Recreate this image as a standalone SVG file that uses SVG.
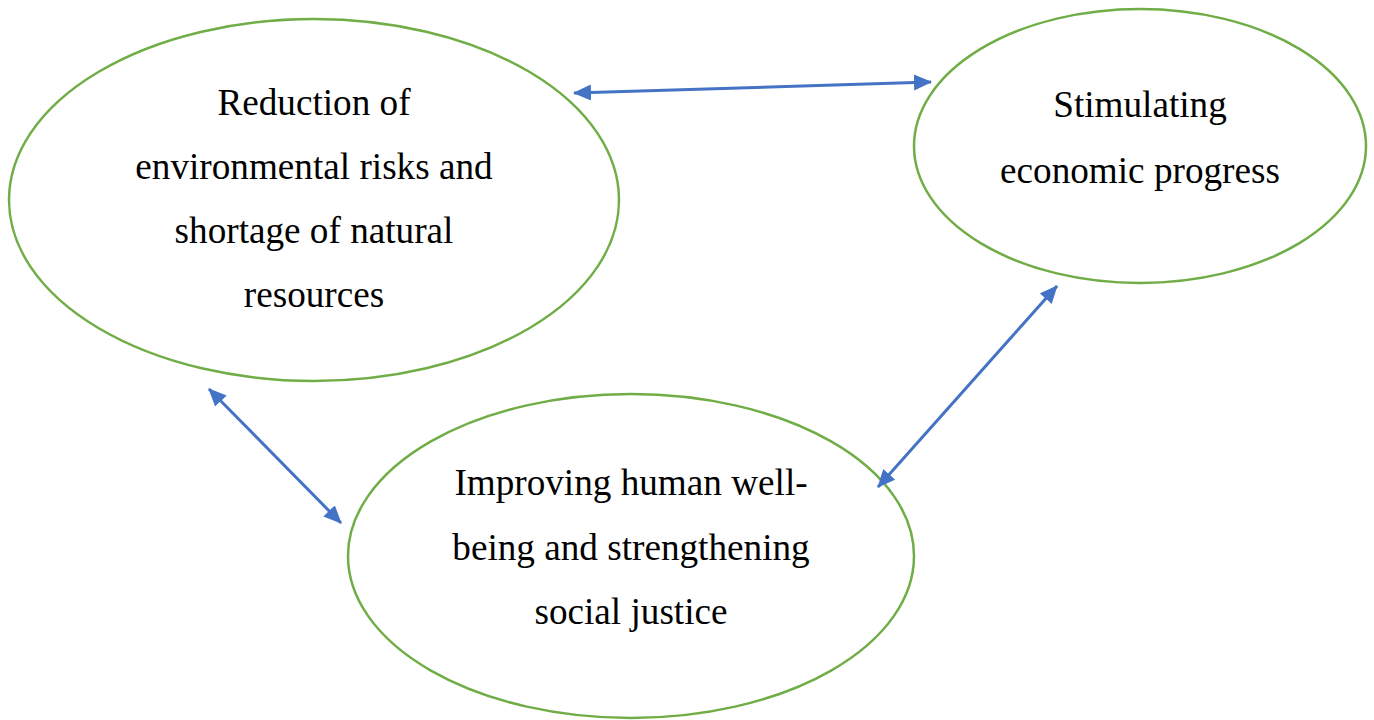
<svg xmlns="http://www.w3.org/2000/svg" width="1374" height="720" viewBox="0 0 1374 720">
<style>
.node ellipse{fill:#fff;stroke:#70AD47;stroke-width:2.5}
.node text{font-family:"Liberation Serif","Times New Roman",serif;font-size:37.2px;fill:#000;text-anchor:middle}
.conn line{stroke:#4472C4;stroke-width:3}
</style>
<defs>
<marker id="ah" markerUnits="userSpaceOnUse" markerWidth="18" markerHeight="16" refX="17" refY="8" orient="auto-start-reverse" viewBox="0 0 18 16">
<path d="M0,0 L18,8 L0,16 Z" fill="#4472C4"/>
</marker>
</defs>
<rect width="1374" height="720" fill="#fff"/>
<g id="n1" class="node">
<ellipse cx="314" cy="200" rx="305" ry="181"/>
<text x="314" y="115">Reduction of</text>
<text x="314" y="179">environmental risks and</text>
<text x="314" y="243">shortage of natural</text>
<text x="314" y="307">resources</text>
</g>
<g id="n2" class="node">
<ellipse cx="1140" cy="146" rx="226" ry="137"/>
<text x="1140" y="117">Stimulating</text>
<text x="1140" y="183">economic progress</text>
</g>
<g id="n3" class="node">
<ellipse cx="631" cy="556" rx="283" ry="162"/>
<text x="631" y="495">Improving human well-</text>
<text x="631" y="560">being and strengthening</text>
<text x="631" y="624">social justice</text>
</g>
<g id="connectors" class="conn">
<line x1="574" y1="93" x2="931" y2="82" marker-start="url(#ah)" marker-end="url(#ah)"/>
<line x1="1057" y1="286" x2="878" y2="487" marker-start="url(#ah)" marker-end="url(#ah)"/>
<line x1="209" y1="389" x2="341" y2="523" marker-start="url(#ah)" marker-end="url(#ah)"/>
</g>
</svg>
